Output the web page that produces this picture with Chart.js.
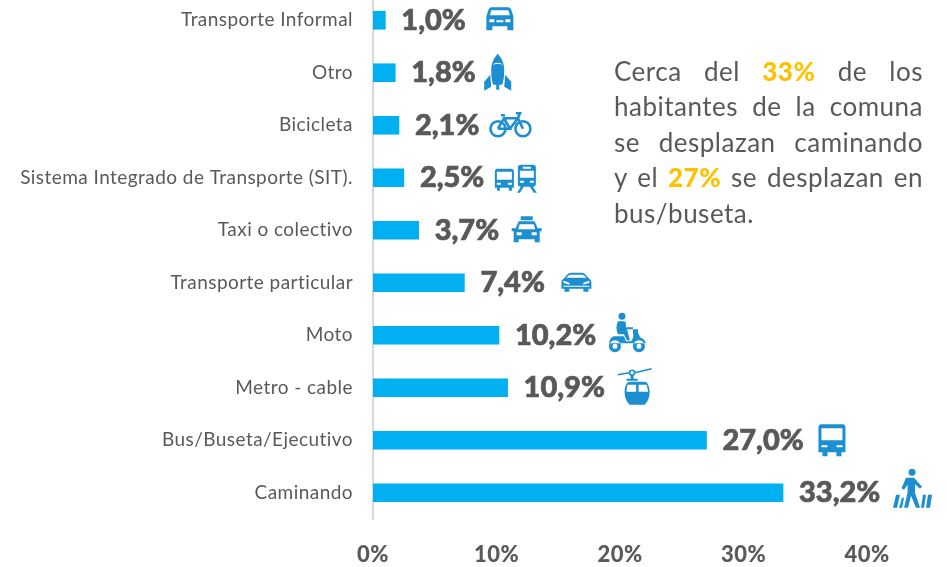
<!DOCTYPE html>
<html lang="es">
<head>
<meta charset="utf-8">
<title>Medio de transporte</title>
<script src="https://cdn.jsdelivr.net/npm/chart.js@4"></script>
<style>
  html, body { margin: 0; padding: 0; background: #fff; overflow: hidden; }
  #wrap { position: relative; width: 947px; height: 567px; overflow: hidden; }
  #chart { position: absolute; left: 0; top: -6px; }
  #note { position: absolute; left: 614px; top: 54px; width: 309px; font: 26px/35.4px Lato, sans-serif; color: #595959; letter-spacing: .5px; }
  #note div { text-align: justify; text-align-last: justify; white-space: nowrap; }
  #note div:last-child { text-align-last: left; }
  #note b { color: #ffc000; font-weight: 900; }
</style>
</head>
<body>
<div id="wrap">
  <canvas id="chart" width="947" height="573"></canvas>
  <div id="note">
    <div>Cerca del <b>33%</b> de los</div>
    <div>habitantes de la comuna</div>
    <div>se desplazan caminando</div>
    <div>y el <b>27%</b> se desplazan en</div>
    <div>bus/buseta.</div>
  </div>
</div>
<script>
  const categories = ["Transporte Informal", "Otro", "Bicicleta", "Sistema Integrado de Transporte (SIT).", "Taxi o colectivo", "Transporte particular", "Moto", "Metro - cable", "Bus/Buseta/Ejecutivo", "Caminando"];
  const shares = [1.0, 1.8, 2.1, 2.5, 3.7, 7.4, 10.2, 10.9, 27.0, 33.2];
  const xTicks = [0, 10, 20, 30, 40];

  const GREY = "#595959";
  const ICON_BLUE = "#1b8fd0";

  // icon outlines, local coords from top-left of each icon. hole = painted white on top
  const ICONS = {
    carFront: { fill: "M5 0H22C24 0 25 2 26 6L27 9V23H21V19H6V23H0V9L1 6C2 2 3 0 5 0Z", hole: "M5 3L3.5 8H23.5L22 3Z M3 12V15H8V12Z M19 12V15H24V12Z M10 13H17V15H10Z" },
    rocket: { fill: "M13.5 0C18 5 20 10 20 17C20 24 19 28 18 31H15V36H12V31H9C8 28 7 24 7 17C7 10 9 5 13.5 0Z M6 21L7 33L0 37V28Z M21 21L27 28V37L20 33Z", hole: "M9.5 10Q13.5 8 17.5 10V11Q13.5 9 9.5 11Z" },
    bike: { stroke: "M1.5 16.5a7.5 7.5 0 1 0 15 0a7.5 7.5 0 1 0 -15 0Z M26.5 16.5a7.5 7.5 0 1 0 15 0a7.5 7.5 0 1 0 -15 0Z M9 16.5L15 6H29L34 16.5 M15 6L21 16.5H9 M21 16.5L29 6 M12 3H16 M27 1H31L29 6", width: 2.6 },
    busTrain: { fill: "M2 4H16C18 4 19 5 19 7V23H17V26H14V23H5V26H2V23H0V7C0 5 1 4 2 4Z M26 0H38C40 0 41 1 41 3V19C41 21 40 22 38 22H26C24 22 23 21 23 19V3C23 1 24 0 26 0Z M26 22H29L25 28H22Z M35 22H38L42 28H39Z", hole: "M2 7V15H17V7Z M2 18V20H6V18Z M13 18V20H17V18Z M25 6V13H39V6Z M25 16V18H29V16Z M35 16V18H39V16Z M28 2V4H36V2Z" },
    taxi: { fill: "M9 0H21V4H9Z M7 5H23L26 12H30V15H28V26H23V23H7V26H2V15H0V12H4Z", hole: "M8 8L6.5 13H23.5L22 8Z M5 16V19H10V16Z M20 16V19H25V16Z" },
    sedan: { fill: "M9 0H21C23 0 25 3 27 5L29 7C30 8 30 9 30 11V16H27V19H22V16H8V19H3V16H0V11C0 9 0 8 1 7L3 5C5 3 7 0 9 0Z", hole: "M9 2C8 2 7 3 5 5H25C23 3 22 2 21 2Z M2 8V10L8 12V10Z M28 8L22 10V12L28 10Z M2 13V14H28V13Z" },
    scooter: { fill: "M11.500 4a3.500 3.500 0 1 0 7 0a3.500 3.500 0 1 0 -7 0Z M11 9H17C19 9 19 11 19 15H26V17H20L23 28H20L17 22H11C9 18 9 13 11 9Z M2 31C3 26 5 24 8 24H17L19 29H24C26 27 27 24 26 20H31L33 25C36 26 38 28 39 31Z M26 17H31V20H26Z M2 34a6 6 0 1 0 12 0a6 6 0 1 0 -12 0Z M26 34a6 6 0 1 0 12 0a6 6 0 1 0 -12 0Z", hole: "M5.500 34a2.500 2.500 0 1 0 5 0a2.500 2.500 0 1 0 -5 0Z M29.500 34a2.500 2.500 0 1 0 5 0a2.500 2.500 0 1 0 -5 0Z" },
    gondola: { stroke: "M0 7L12 5 M17 5L34 1 M12 5a2.500 2.500 0 1 0 5 0a2.500 2.500 0 1 0 -5 0Z", width: 1.6, fill: "M13 7H16V11H20V13H9V11H13Z M12 14H27C30 14 32 19 32 24C32 30 30 34 27 37H12C9 34 7 30 7 24C7 19 9 14 12 14Z", hole: "M10 17C9.500 19 9 21 9 24H18.500V17Z M21 17V24H30.500C30 21 29.500 19 29 17Z" },
    busFront: { fill: "M3 0H24C26 0 27 1 27 3V28H23V32H18V28H9V32H4V28H0V3C0 1 1 0 3 0Z", hole: "M3 4V16H24V4Z M3 21V23H9V21Z M18 21V23H24V21Z" },
    walker: { fill: "M15.500 3.500a3.500 3.500 0 1 0 7 0a3.500 3.500 0 1 0 -7 0Z M13 9H21L29 18L27 20L22 15.500L22 24L27 39H23L18 27L15 39H11L14.500 24V16L11 21L8.500 19.500Z M3 26H7L4 39H0Z M9 29H11L9 39H6Z M30 26H33L31 39H28Z M35 26H39L37 39H33Z" }
  };
  // per bar: which icon, offset from the bar end, offset from the bar centre
  const iconNames = ["carFront", "rocket", "bike", "busTrain", "taxi", "sedan", "scooter", "gondola", "busFront", "walker"];
  const iconDx = [101, 89, 90, 91, 93, 97, 108, 110, 112, 110];
  const iconDy = [-13, -19, -13, -13, -14, -10, -23, -20, -16, -24];

  const textSpacing = {
    id: "textSpacing",
    beforeDraw(chart) { chart.ctx.letterSpacing = "0.45px"; }
  };

  const barLabels = {
    id: "barLabels",
    afterDatasetsDraw(chart) {
      const { ctx, scales: { x, y } } = chart;
      ctx.save();
      ctx.letterSpacing = "0px";
      shares.forEach(function (v, i) {
        const xEnd = x.getPixelForValue(v);
        const yMid = y.getPixelForValue(i);
        const txt = v.toFixed(1).replace(".", ",") + "%";
        ctx.font = "900 29px Lato, sans-serif";
        ctx.fillStyle = GREY;
        ctx.strokeStyle = GREY;
        ctx.lineWidth = 0.7;
        ctx.textAlign = "left";
        ctx.textBaseline = "middle";
        ctx.fillText(txt, xEnd + 16, yMid);
        ctx.strokeText(txt, xEnd + 16, yMid);

        const icon = ICONS[iconNames[i]];
        ctx.save();
        ctx.translate(xEnd + iconDx[i], yMid + iconDy[i]);
        ctx.fillStyle = ICON_BLUE;
        ctx.strokeStyle = ICON_BLUE;
        ctx.lineWidth = icon.width || 2;
        if (icon.fill) ctx.fill(new Path2D(icon.fill));
        if (icon.stroke) ctx.stroke(new Path2D(icon.stroke));
        if (icon.hole) {
          ctx.fillStyle = "#fff";
          ctx.fill(new Path2D(icon.hole));
        }
        ctx.restore();
      });
      ctx.restore();
    }
  };

  new Chart(document.getElementById("chart"), {
    type: "bar",
    data: {
      labels: categories,
      datasets: [{ data: shares, backgroundColor: "#00b0f0", barThickness: 18 }]
    },
    plugins: [textSpacing, barLabels],
    options: {
      indexAxis: "y",
      responsive: false,
      animation: false,
      layout: { padding: { right: 80, left: 0, top: 0, bottom: 0 } },
      plugins: { legend: { display: false }, tooltip: { enabled: false } },
      scales: {
        x: {
          min: 0,
          max: 40,
          afterBuildTicks(scale) { scale.ticks = xTicks.map(function (v) { return { value: v }; }); },
          afterFit(scale) { scale.height = 48; scale.paddingLeft = 0; scale.paddingRight = 0; },
          grid: { display: false, drawTicks: false },
          border: { display: false },
          ticks: {
            color: GREY,
            font: { family: "Lato, sans-serif", size: 22, weight: "900" },
            padding: 23,
            maxRotation: 0,
            callback: function (v) { return v + "%"; }
          }
        },
        y: {
          afterFit(scale) { scale.width = 373; scale.paddingTop = 0; scale.paddingBottom = 0; },
          grid: { display: false, drawTicks: false },
          border: { display: true, color: "#d9d9d9", width: 2 },
          ticks: {
            color: GREY,
            font: { family: "Lato, sans-serif", size: 19 },
            padding: 20,
            autoSkip: false
          }
        }
      }
    }
  });
</script>
</body>
</html>
